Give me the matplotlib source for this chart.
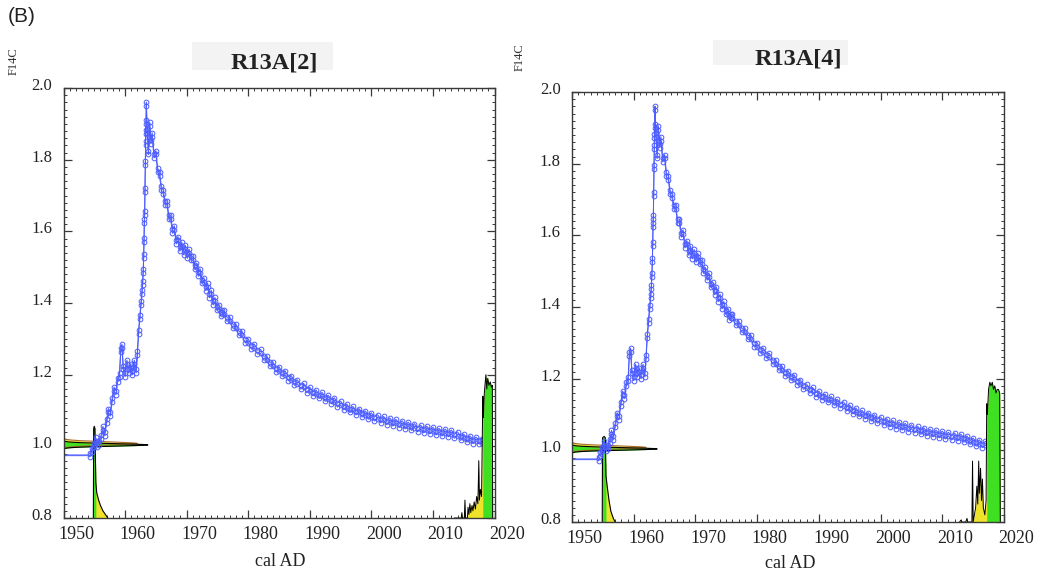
import numpy as np
import matplotlib
matplotlib.use('Agg')
import matplotlib.pyplot as plt
from matplotlib.transforms import ScaledTranslation
from matplotlib.ticker import MultipleLocator
from matplotlib.patches import Rectangle

# ---------------- data ----------------
panel_tag = '(B)'
panel_titles = ['R13A[2]', 'R13A[4]']
x_label = 'cal AD'
y_label = 'F14C'
x_ticks = [1950, 1960, 1970, 1980, 1990, 2000, 2010, 2020]
y_ticks = [0.8, 1.0, 1.2, 1.4, 1.6, 1.8, 2.0]

# bomb calibration curve (F14C)
curve_years = [
    1950.0, 1951.0, 1952.0, 1953.0, 1954.0, 1954.3, 1954.6, 1954.9, 1955.2, 1955.5,
    1955.8, 1956.1, 1956.4, 1956.7, 1957.0, 1957.3, 1957.6, 1957.9, 1958.2, 1958.5,
    1958.8, 1959.1, 1959.3, 1959.5, 1959.7, 1960.0, 1960.3, 1960.6, 1960.9, 1961.2,
    1961.5, 1961.8, 1962.0, 1962.2, 1962.4, 1962.6, 1962.75, 1962.85, 1962.95, 1963.02,
    1963.08, 1963.13, 1963.18, 1963.23, 1963.28, 1963.32, 1963.36, 1963.4, 1963.45, 1963.6,
    1963.8, 1964.0, 1964.2, 1964.4, 1964.7, 1965.0, 1965.3, 1965.6, 1965.9, 1966.2,
    1966.5, 1966.8, 1967.1, 1967.4, 1967.7, 1968.0, 1968.3, 1968.6, 1968.9, 1969.2,
    1969.5, 1969.8, 1970.1, 1970.4, 1970.7, 1971.0, 1971.3, 1971.6, 1971.9, 1972.2,
    1972.5, 1972.8, 1973.1, 1973.4, 1973.7, 1974.0, 1974.3, 1974.6, 1974.9, 1975.2,
    1975.5, 1975.8,
    1976.0, 1976.5, 1977.0, 1977.5, 1978.0, 1978.5, 1979.0, 1979.5, 1980.0, 1980.5,
    1981.0, 1981.5, 1982.0, 1982.5, 1983.0, 1983.5, 1984.0, 1984.5, 1985.0, 1985.5,
    1986.0, 1986.5, 1987.0, 1987.5, 1988.0, 1988.5, 1989.0, 1989.5, 1990.0, 1990.5,
    1991.0, 1991.5, 1992.0, 1992.5, 1993.0, 1993.5, 1994.0, 1994.5, 1995.0, 1995.5,
    1996.0, 1996.5, 1997.0, 1997.5, 1998.0, 1998.5, 1999.0, 1999.5, 2000.0, 2000.5,
    2001.0, 2001.5, 2002.0, 2002.5, 2003.0, 2003.5, 2004.0, 2004.5, 2005.0, 2005.5,
    2006.0, 2006.5, 2007.0, 2007.5, 2008.0, 2008.5, 2009.0, 2009.5, 2010.0, 2010.5,
    2011.0, 2011.5, 2012.0, 2012.5, 2013.0, 2013.5, 2014.0, 2014.5, 2015.0, 2015.5,
    2016.0, 2016.5, 2017.0, 2017.5, 2018.0,
]
curve_f14c = [
    0.975, 0.975, 0.975, 0.975, 0.975, 0.976, 0.990, 1.005, 1.020, 1.005,
    1.010, 1.025, 1.050, 1.035, 1.070, 1.100, 1.090, 1.130, 1.160, 1.150,
    1.185, 1.200, 1.270, 1.280, 1.220, 1.200, 1.235, 1.210, 1.225, 1.205,
    1.235, 1.210, 1.260, 1.320, 1.360, 1.400, 1.430, 1.455, 1.490, 1.530,
    1.575, 1.630, 1.650, 1.715, 1.790, 1.846, 1.877, 1.905, 1.955, 1.880,
    1.820, 1.900, 1.850, 1.870, 1.810, 1.820, 1.770, 1.760, 1.720, 1.710,
    1.680, 1.680, 1.640, 1.640, 1.600, 1.610, 1.570, 1.580, 1.550, 1.565,
    1.540, 1.555, 1.530, 1.545, 1.525, 1.525, 1.500, 1.505, 1.480, 1.490,
    1.460, 1.465, 1.440, 1.450, 1.420, 1.430, 1.400, 1.410, 1.385, 1.390,
    1.370, 1.375,
    1.375, 1.355, 1.355, 1.335, 1.335, 1.315, 1.315, 1.295, 1.295, 1.277,
    1.280, 1.263, 1.265, 1.246, 1.247, 1.229, 1.230, 1.213, 1.217, 1.201,
    1.205, 1.189, 1.192, 1.176, 1.180, 1.165, 1.170, 1.155, 1.160, 1.146,
    1.152, 1.139, 1.145, 1.131, 1.137, 1.124, 1.130, 1.115, 1.121, 1.107,
    1.113, 1.100, 1.106, 1.093, 1.100, 1.087, 1.094, 1.081, 1.088, 1.076,
    1.083, 1.071, 1.078, 1.066, 1.074, 1.062, 1.070, 1.058, 1.066, 1.054,
    1.062, 1.050, 1.058, 1.046, 1.054, 1.043, 1.051, 1.040, 1.048, 1.037,
    1.045, 1.034, 1.043, 1.032, 1.040, 1.028, 1.035, 1.022, 1.029, 1.017,
    1.024, 1.013, 1.020, 1.012, 1.016,
]
curve_sigma_prebomb = 0.001
curve_sigma = 0.0055
bomb_start = 1954.3

# measured F14C (likelihood drawn on the y axis): [yellow, green] per panel
meas_center = [[1.008, 1.004], [1.008, 1.004]]
meas_sigma = [[0.0045, 0.0035], [0.0045, 0.0035]]
meas_reach = [[1962.0, 1963.7], [1962.0, 1963.8]]

# calibrated date distributions (top of the shape in F14C units, base at 0.8)
early_years = [
    [1954.85, 1954.9, 1955.0, 1955.1, 1955.25, 1955.4, 1955.7, 1956.0, 1956.4, 1956.8, 1957.2],
    [1954.9, 1954.95, 1955.2, 1955.4, 1955.5, 1955.7, 1956.0, 1956.3, 1956.7, 1957.0],
]
early_top = [
    [0.80, 1.050, 1.056, 1.050, 0.900, 0.870, 0.850, 0.835, 0.820, 0.810, 0.800],
    [0.80, 1.035, 1.039, 1.035, 0.930, 0.900, 0.860, 0.830, 0.810, 0.800],
]
early_green_until = [1955.25, 1955.5]

late_years = [
    [2013.5, 2014.6, 2014.7, 2014.8, 2015.1, 2015.2, 2015.3, 2015.6, 2015.7, 2015.85,
     2016.0, 2016.15, 2016.35, 2016.5, 2016.7, 2016.9, 2017.1, 2017.3, 2017.45, 2017.55,
     2017.7, 2017.9, 2018.1, 2018.2, 2018.35, 2018.6, 2018.75, 2018.9, 2019.1, 2019.3,
     2019.5, 2019.65, 2019.7],
    [2012.8, 2013.0, 2013.2, 2013.8, 2014.0, 2014.1, 2014.8, 2014.9, 2015.0, 2015.4,
     2015.6, 2015.75, 2015.9, 2016.0, 2016.2, 2016.35, 2016.5, 2016.65, 2016.9, 2017.1,
     2017.2, 2017.3, 2017.5, 2017.7, 2017.9, 2018.1, 2018.3, 2018.5, 2018.7, 2018.9,
     2019.1, 2019.3, 2019.4],
]
late_top = [
    [0.80, 0.80, 0.815, 0.80, 0.80, 0.85, 0.80, 0.80, 0.83, 0.81,
     0.84, 0.815, 0.835, 0.82, 0.845, 0.825, 0.86, 0.84, 0.96, 0.85,
     0.88, 0.86, 1.14, 1.08, 1.15, 1.20, 1.16, 1.19, 1.17, 1.18,
     1.165, 1.17, 0.80],
    [0.80, 0.805, 0.80, 0.80, 0.81, 0.80, 0.80, 0.97, 0.80, 0.84,
     0.90, 0.85, 0.97, 0.88, 0.95, 0.86, 0.92, 0.84, 0.82, 0.86,
     1.13, 1.10, 1.17, 1.19, 1.18, 1.19, 1.17, 1.18, 1.16, 1.17,
     1.17, 1.16, 0.80],
]
late_green_from = [2018.1, 2017.2]

# ---------------- style ----------------
BLUE = '#4c5cff'
GREEN = '#3fe022'
YELLOW = '#efe22a'
BROWN = '#a86a2a'
FRAME = '#3a3a3a'
SERIF = ['Liberation Serif', 'DejaVu Serif']

W, H = 1040, 576
fig = plt.figure(figsize=(W / 100, H / 100), dpi=100)

axes_px = [(63.5, 88, 494.5, 518), (572, 92, 1004, 522)]
title_box_px = [(192, 42, 333, 70), (713, 40, 848, 65)]
title_px = [(274, 68), (798, 65)]
ylabel_px = [(14, 61), (520, 57)]
xlabel_px = [(280, 562), (790, 563)]

yrs = np.array(curve_years)
f = np.array(curve_f14c)
sig = np.where(yrs < bomb_start, curve_sigma_prebomb, curve_sigma)
mark = yrs >= bomb_start

for i in range(2):
    x0, y0, x1, y1 = axes_px[i]
    ax = fig.add_axes([x0 / W, 1 - y1 / H, (x1 - x0) / W, (y1 - y0) / H])
    ax.set_xlim(1950, 2020)
    ax.set_ylim(0.8, 2.0)

    # measured F14C likelihood along the y axis
    for k, (col, edge) in enumerate([(YELLOW, BROWN), (GREEN, 'black')]):
        c = meas_center[i][k]
        s = meas_sigma[i][k]
        yy = np.linspace(c - 4 * s, c + 4 * s, 200)
        xx = 1950 + (meas_reach[i][k] - 1950) * np.exp(-0.5 * ((yy - c) / s) ** 2)
        ax.fill_betweenx(yy, 1950, xx, color=col, lw=0, zorder=2)
        ax.plot(xx, yy, color=edge, lw=0.8, zorder=2.5)

    # calibrated distributions (early mode beneath the curve)
    ex = np.array(early_years[i]); et = np.array(early_top[i])
    ax.fill_between(ex, 0.8, et, color=YELLOW, lw=0, zorder=2)
    m = ex <= early_green_until[i]
    ax.fill_between(ex[m], 0.8, et[m], color=GREEN, lw=0, zorder=2.1)
    ax.plot(ex, et, color='black', lw=0.8, zorder=2.5)

    # late mode drawn over the end of the curve
    lx = np.array(late_years[i]); lt = np.array(late_top[i])
    ax.fill_between(lx, 0.8, lt, color=YELLOW, lw=0, zorder=4)
    m = lx >= late_green_from[i]
    ax.fill_between(lx[m], 0.8, lt[m], color=GREEN, lw=0, zorder=4.1)
    ax.plot(lx, lt, color='black', lw=0.7, zorder=4.5)

    # calibration curve ribbon
    for sgn in (1, -1):
        ax.plot(yrs, f + sgn * sig, color=BLUE, lw=0.7, marker='o', ms=3.4,
                mfc='none', mec=BLUE, mew=0.7, markevery=list(mark), zorder=3)

    # axes styling
    for sp in ax.spines.values():
        sp.set_color(FRAME)
        sp.set_linewidth(1.0)
        sp.set_zorder(5)
    ax.set_xticks(x_ticks)
    ax.set_yticks(y_ticks)
    ax.set_xticklabels([str(t) for t in x_ticks])
    ax.set_yticklabels([f'{t:.1f}' for t in y_ticks])
    ax.xaxis.set_minor_locator(MultipleLocator(1))
    ax.yaxis.set_minor_locator(MultipleLocator(0.02))
    ax.tick_params(which='both', direction='in', top=True, right=True, color=FRAME)
    ax.tick_params(which='major', length=5.5, width=0.9)
    ax.tick_params(which='minor', length=2, width=0.7)
    ax.tick_params(axis='x', which='major', pad=6, labelsize=13, labelcolor='#222222')
    ax.tick_params(axis='y', which='major', pad=8, labelsize=12, labelcolor='#222222')
    for lbl in ax.get_xticklabels():
        lbl.set_fontfamily(SERIF)
        lbl.set_transform(lbl.get_transform() + ScaledTranslation(0.125, 0, fig.dpi_scale_trans))
    for lbl in ax.get_yticklabels():
        lbl.set_fontfamily(SERIF)
        lbl.set_transform(lbl.get_transform() + ScaledTranslation(0, 0.04, fig.dpi_scale_trans))

    # title box and texts
    bx0, by0, bx1, by1 = title_box_px[i]
    fig.add_artist(Rectangle((bx0 / W, 1 - by1 / H), (bx1 - bx0) / W, (by1 - by0) / H,
                             transform=fig.transFigure, facecolor='#f3f3f3',
                             edgecolor='none', zorder=0))
    tx, ty = title_px[i]
    fig.text(tx / W, 1 - ty / H, panel_titles[i], ha='center', va='baseline',
             fontsize=17.5, fontweight='bold', family=SERIF, color='#222222')
    lx_, ly_ = ylabel_px[i]
    fig.text(lx_ / W, 1 - ly_ / H, y_label, rotation=90, ha='center', va='center',
             fontsize=9, family=SERIF, color='#333333')
    cx, cy = xlabel_px[i]
    fig.text(cx / W, 1 - cy / H, x_label, ha='center', va='center',
             fontsize=13, family=SERIF, color='#222222')

fig.text(8 / W, 1 - 16 / H, panel_tag, ha='left', va='center', fontsize=15,
         family=['Liberation Sans', 'DejaVu Sans'], color='#222222')

fig.savefig('out.png', dpi=100)
